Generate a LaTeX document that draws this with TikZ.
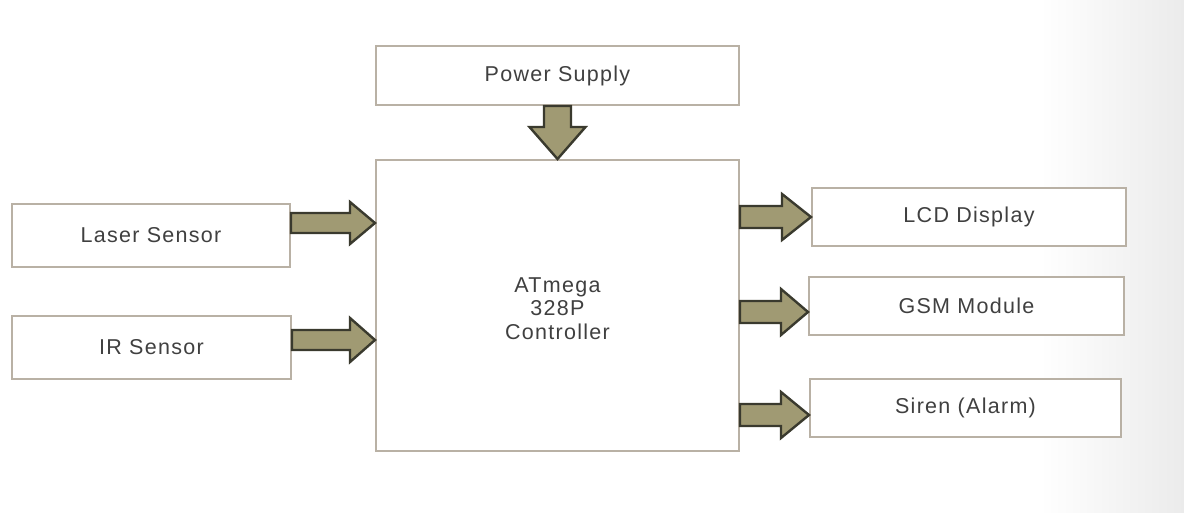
\documentclass[tikz,border=0pt]{standalone}
\usepackage{fontspec}
\setmainfont{Liberation Sans}[LetterSpace=6]
\usetikzlibrary{calc}
\definecolor{boxline}{HTML}{B9B1A5}
\definecolor{arrfill}{HTML}{A09A73}
\definecolor{arrline}{HTML}{3A3A2E}
\definecolor{txt}{HTML}{404040}
\definecolor{bgg}{HTML}{EBEBEB}
\tikzset{
  blk/.style={draw=boxline, line width=2pt, fill=white, text=txt, font=\fontsize{21.5}{26}\selectfont, align=center, inner sep=0pt},
  barrow/.style={draw=arrline, fill=arrfill, line width=2.4pt, line join=miter}
}
\begin{document}
\begin{tikzpicture}[x=1pt,y=-1pt]
\useasboundingbox (0,0) rectangle (1184,513);
\fill[white] (0,0) rectangle (1184,513);
\shade[left color=white, right color=bgg, shading angle=90] (1040,0) rectangle (1184,513);
\fill[white] (0,0) rectangle (1040,513);
\node[blk, minimum width=363pt, minimum height=59pt] (ps) at (557.5,75.5) {Power Supply};
\node[blk, minimum width=363pt, minimum height=291pt] (ctrl) at (557.5,305.5) {};
\node[text=txt, font=\fontsize{21.5}{23.5}\selectfont, align=center] (ctrltext) at ($(ctrl.center)+(0,3)$) {ATmega\\328P\\Controller};
\node[blk, minimum width=278pt, minimum height=63pt] (laser) at (151,235.5) {Laser Sensor};
\node[blk, minimum width=279pt, minimum height=63pt] (ir) at (151.5,347.5) {IR Sensor};
\node[blk, minimum width=314pt, minimum height=58pt] (lcd) at (969,217) {LCD Display};
\node[blk, minimum width=315pt, minimum height=58pt] (gsm) at (966.5,306) {GSM Module};
\node[blk, minimum width=311pt, minimum height=58pt] (siren) at (965.5,408) {Siren (Alarm)};
% down arrow
\coordinate (dt) at (ctrl.north);
\draw[barrow] ($(ps.south)+(-13.5,0)$) -- ($(dt)+(-13.5,-32)$) -- ($(dt)+(-28,-32)$) -- (dt) -- ($(dt)+(28,-32)$) -- ($(dt)+(13.5,-32)$) -- ($(ps.south)+(13.5,0)$) -- cycle;
% input arrows
\coordinate (lt) at (ctrl.west |- 0,223);
\coordinate (ls) at (laser.east |- 0,223);
\draw[barrow] ($(ls)+(0,-10)$) -- ($(lt)+(-25,-10)$) -- ($(lt)+(-25,-21)$) -- (lt) -- ($(lt)+(-25,21)$) -- ($(lt)+(-25,10)$) -- ($(ls)+(0,10)$) -- cycle;
\coordinate (it) at (ctrl.west |- 0,340);
\coordinate (is) at (ir.east |- 0,340);
\draw[barrow] ($(is)+(0,-10)$) -- ($(it)+(-25,-10)$) -- ($(it)+(-25,-22)$) -- (it) -- ($(it)+(-25,22)$) -- ($(it)+(-25,10)$) -- ($(is)+(0,10)$) -- cycle;
% output arrows
\coordinate (as) at (ctrl.east |- 0,217);
\coordinate (at) at (lcd.west |- 0,217);
\draw[barrow] ($(as)+(0,-11)$) -- ($(at)+(-29,-11)$) -- ($(at)+(-29,-23)$) -- (at) -- ($(at)+(-29,23)$) -- ($(at)+(-29,11)$) -- ($(as)+(0,11)$) -- cycle;
\coordinate (bs) at (ctrl.east |- 0,312);
\coordinate (bt) at (gsm.west |- 0,312);
\draw[barrow] ($(bs)+(0,-11)$) -- ($(bt)+(-27,-11)$) -- ($(bt)+(-27,-23)$) -- (bt) -- ($(bt)+(-27,23)$) -- ($(bt)+(-27,11)$) -- ($(bs)+(0,11)$) -- cycle;
\coordinate (cs) at (ctrl.east |- 0,415);
\coordinate (ct) at (siren.west |- 0,415);
\draw[barrow] ($(cs)+(0,-11)$) -- ($(ct)+(-28,-11)$) -- ($(ct)+(-28,-23)$) -- (ct) -- ($(ct)+(-28,23)$) -- ($(ct)+(-28,11)$) -- ($(cs)+(0,11)$) -- cycle;
\end{tikzpicture}
\end{document}
